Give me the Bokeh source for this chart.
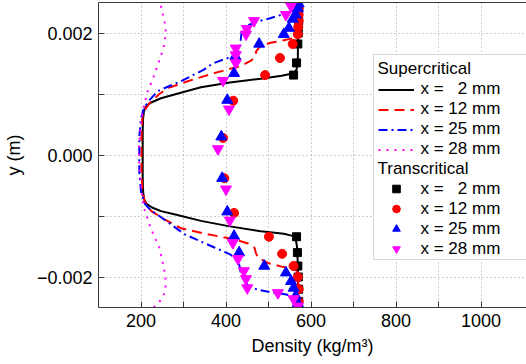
from bokeh.plotting import figure
from bokeh.models import Range1d, FixedTicker, LinearAxis, Legend, LegendItem, BoxAnnotation
from bokeh.embed import file_html
from bokeh.resources import INLINE

# ---------------- data ----------------
# Supercritical (lines)
sc2_y = [-0.0025, -0.0018, -0.0015, -0.00138, -0.00133, -0.00129, -0.00125, -0.00117, -0.00108,
         -0.00098, -0.00092, -0.00086, -0.0008, -0.00072, -0.0006, -0.0004, 0.0, 0.0004, 0.0006,
         0.00072, 0.0008, 0.00086, 0.00093, 0.001, 0.00111, 0.00119, 0.00125, 0.0013, 0.00134,
         0.0014, 0.0016, 0.0025]
sc2_rho = [570, 569, 567, 564, 559, 536, 482, 409, 341, 283, 247, 226, 213, 207, 205, 204, 204, 204,
           205, 207, 212, 224, 247, 283, 341, 409, 482, 531, 559, 566, 569, 570]

sc12_y = [-0.0025, -0.0020, -0.0019, -0.00187, -0.00183, -0.00177, -0.00168, -0.0016, -0.00152,
          -0.00145, -0.00138, -0.0013, -0.0012, -0.00105, -0.00092, -0.00075, -0.0006, -0.0003, 0.0,
          0.0003, 0.0006, 0.00072, 0.00085, 0.001, 0.0011, 0.00121, 0.00134, 0.00146, 0.00155,
          0.00163, 0.0017, 0.00178, 0.00184, 0.00188, 0.00192, 0.00198, 0.0025]
sc12_rho = [571, 570, 567, 559, 531, 498, 475, 470, 467, 452, 419, 357, 294, 254, 224, 208, 204, 201,
            201, 201, 203, 207, 220, 243, 265, 310, 371, 435, 460, 469, 471, 480, 505, 536, 561, 569, 571]

sc25_y = [-0.0025, -0.00237, -0.00231, -0.00228, -0.00225, -0.00221, -0.00215, -0.00207, -0.00195,
          -0.00182, -0.00172, -0.00163, -0.00152, -0.00142, -0.0013, -0.00115, -0.001, -0.0009,
          -0.0008, -0.0006, -0.0003, 0.0, 0.0003, 0.0006, 0.00077, 0.0009, 0.00105, 0.00121, 0.0014,
          0.0015, 0.00158, 0.00163, 0.0017, 0.0019, 0.00205, 0.00212, 0.00218, 0.00223, 0.00231,
          0.00237, 0.00242, 0.0025]
sc25_rho = [571, 569, 559, 536, 505, 475, 455, 442, 435, 432, 425, 410, 374, 341, 303, 273, 243, 222,
            209, 200, 196, 196, 196, 200, 207, 220, 240, 294, 348, 369, 400, 419, 430, 435, 437, 450,
            470, 498, 536, 559, 569, 571]

sc28_y = [-0.0025, -0.00234, -0.00211, -0.00185, -0.00152, -0.0012, -0.00087, -0.00054, -0.0002,
          0.0001, 0.00034, 0.00072, 0.00105, 0.00125, 0.00145, 0.00162, 0.0018, 0.002, 0.00216,
          0.00238, 0.0025]
sc28_rho = [230, 252, 259, 254, 243, 223, 207, 200, 196, 195, 197, 204, 216, 228, 238, 247, 254, 259,
            256, 249, 245]

# Transcritical (markers)
tc2_y = [-0.0024, -0.0022, -0.002, -0.00182, -0.0016, -0.00134, 0.00131, 0.00151, 0.00182, 0.002,
         0.0022, 0.0024]
tc2_rho = [571, 571, 570, 569, 568, 566, 559, 566, 569, 570, 571, 571]

tc12_y = [-0.0024, -0.0022, -0.002, -0.00182, -0.00162, -0.00134, -0.00095, -0.00038, 0.00028,
          0.00089, 0.00131, 0.00159, 0.00182, 0.00198, 0.0021, 0.0022, 0.0023, 0.0024]
tc12_rho = [571, 571, 569, 559, 532, 501, 419, 396, 393, 417, 492, 527, 557, 569, 570, 571, 571, 571]

tc25_y = [-0.00243, -0.00231, -0.00218, -0.00207, -0.00193, -0.00182, -0.0016, -0.00133, -0.00093,
          -0.00038, 0.0003, 0.0009, 0.00134, 0.00162, 0.00182, 0.00198, 0.00208, 0.00223, 0.0023,
          0.0024, 0.00248]
tc25_rho = [569, 564, 559, 553, 541, 490, 431, 419, 403, 391, 389, 403, 419, 422, 478, 536, 548, 557,
            564, 569, 571]

tc28_y = [-0.00248, -0.00236, -0.00226, -0.00218, -0.00203, -0.0019, -0.0017, -0.00144, -0.00107,
          -0.00056, 0.0001, 0.00075, 0.00122, 0.00151, 0.00164, 0.00175, 0.00198, 0.00207, 0.0022,
          0.0023, 0.00244]
tc28_rho = [569, 559, 522, 450, 447, 442, 428, 416, 409, 400, 381, 407, 393, 423, 423, 423, 447, 449,
            466, 541, 553]

labels = ["x = \u20072 mm", "x = 12 mm", "x = 25 mm", "x = 28 mm"]
x_major = [200, 400, 600, 800, 1000]
x_minor = [300, 500, 700, 900]
y_major = [-0.002, 0.0, 0.002]
y_minor = [-0.001, 0.001]

FONT = "Liberation Sans"

# ---------------- figure ----------------
p = figure(width=526, height=364, output_backend="svg", toolbar_location=None,
           x_range=Range1d(100, 1107), y_range=Range1d(-0.0025, 0.0025),
           min_border_left=98, min_border_right=0, min_border_top=2, min_border_bottom=57,
           background_fill_color="white", border_fill_color="white")
p.outline_line_color = None

AX = "#3a3a3a"
for ax in (p.xaxis[0], p.yaxis[0]):
    ax.axis_line_color = AX
    ax.major_tick_line_color = AX
    ax.minor_tick_line_color = AX
    ax.major_tick_in = 6
    ax.major_tick_out = 0
    ax.minor_tick_in = 6
    ax.minor_tick_out = 0
    ax.major_label_text_font = FONT
    ax.major_label_text_font_size = "18px"
    ax.major_label_text_color = "black"
    ax.axis_label_text_font = FONT
    ax.axis_label_text_font_size = "18px"
    ax.axis_label_text_font_style = "normal"
    ax.axis_label_text_color = "black"

p.xaxis.ticker = FixedTicker(ticks=x_major, minor_ticks=x_minor)
p.yaxis.ticker = FixedTicker(ticks=y_major, minor_ticks=y_minor)
p.yaxis.major_label_overrides = {-0.002: "\u22120.002", 0.0: "0.000", 0.002: "0.002"}
p.xaxis.major_label_standoff = 6
p.yaxis.major_label_standoff = 6
p.xaxis.axis_label = "Density (kg/m\u00b3)"
p.yaxis.axis_label = "y (m)"
p.xaxis.axis_label_standoff = 6
p.yaxis.axis_label_standoff = 10

top = LinearAxis(ticker=FixedTicker(ticks=[]), major_tick_in=0, major_tick_out=0,
                 minor_tick_in=0, minor_tick_out=0, major_label_text_font_size="0px",
                 axis_line_color=AX, major_label_standoff=0)
p.add_layout(top, "above")

for g in (p.xgrid[0], p.ygrid[0]):
    g.grid_line_color = "#9a9a9a"
    g.grid_line_dash = "1 3"
    g.grid_line_width = 1
    g.minor_grid_line_color = "#9a9a9a"
    g.minor_grid_line_dash = "1 3"
    g.minor_grid_line_width = 1

# lines
l1 = p.line(sc2_rho, sc2_y, line_color="black", line_width=2)
l2 = p.line(sc12_rho, sc12_y, line_color="red", line_width=2, line_dash="10 6")
l3 = p.line(sc25_rho, sc25_y, line_color="blue", line_width=2, line_dash="9 4 2 4")
l4 = p.line(sc28_rho, sc28_y, line_color="magenta", line_width=2, line_dash="2 6")

# markers
m1 = p.scatter(tc2_rho, tc2_y, marker="square", size=8, color="black")
m2 = p.scatter(tc12_rho, tc12_y, marker="circle", size=9, color="red")
m3 = p.scatter(tc25_rho, tc25_y, marker="triangle", size=11, color="blue")
m4 = p.scatter(tc28_rho, tc28_y, marker="inverted_triangle", size=11, color="magenta")

# legend box (screen units, relative to the plot frame)
box = BoxAnnotation(left=275, right=450, top=253, bottom=48,
                    left_units="screen", right_units="screen", top_units="screen", bottom_units="screen",
                    fill_color="white", fill_alpha=1.0, line_color="#7f7f7f", line_width=1)
p.add_layout(box)

def make_legend(title, items, loc):
    return Legend(items=items, title=title, location=loc, orientation="vertical",
                  background_fill_alpha=0, border_line_color=None,
                  padding=2, spacing=0, title_standoff=0,
                  label_height=19, glyph_height=19, glyph_width=36, label_standoff=7,
                  label_text_font=FONT, label_text_font_size="17px", label_text_color="black",
                  title_text_font=FONT, title_text_font_size="17px", title_text_font_style="normal",
                  title_text_color="black")

leg1 = make_legend("Supercritical",
                   [LegendItem(label=t, renderers=[r]) for t, r in zip(labels, [l1, l2, l3, l4])],
                   (279.5, 148))
leg2 = make_legend("Transcritical",
                   [LegendItem(label=t, renderers=[r]) for t, r in zip(labels, [m1, m2, m3, m4])],
                   (279.5, 48.5))
p.add_layout(leg1)
p.add_layout(leg2)

open("out.html", "w").write(file_html(p, INLINE))
